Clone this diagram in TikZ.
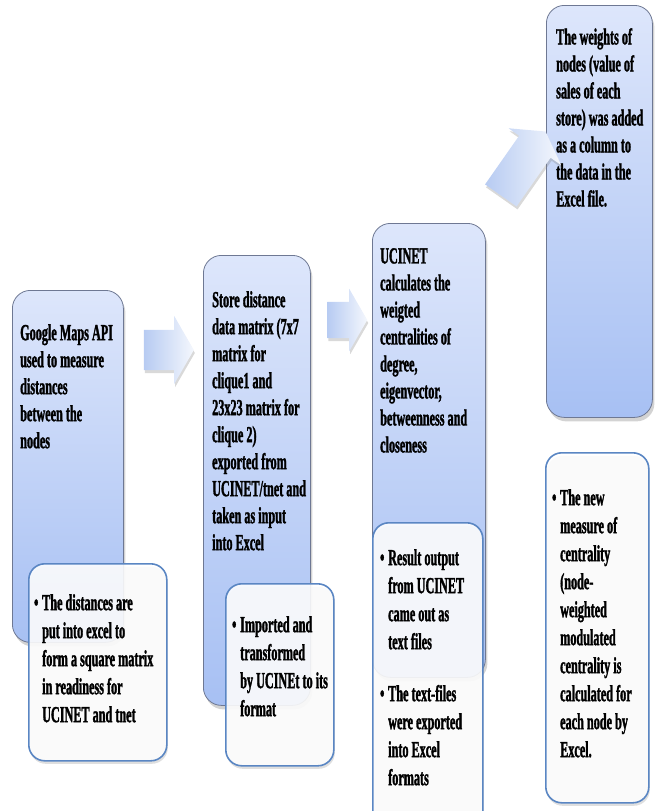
\documentclass[tikz,border=0pt]{standalone}
\usepackage{fontspec}
\newfontfamily\stepfont{Liberation Serif Bold}[FakeStretch=0.53, FakeBold=1.3]
\usetikzlibrary{shapes.arrows,shadows,positioning}

\definecolor{boxtop}{HTML}{DDE6FB}
\definecolor{boxbot}{HTML}{A7C0F3}
\definecolor{boxline}{HTML}{6E7893}
\definecolor{noteline}{HTML}{5A86C3}
\definecolor{arrowblue}{HTML}{B7CBF2}

\tikzset{
  bluebox/.style={draw=boxline, line width=0.8pt, rounded corners=18pt, top color=boxtop, bottom color=boxbot,
    drop shadow={shadow xshift=2pt, shadow yshift=-4pt, opacity=0.35}, anchor=north west, inner sep=0pt},
  notebox/.style={draw=noteline, line width=1.6pt, rounded corners=16pt, fill=white, fill opacity=0.88,
    drop shadow={shadow xshift=1pt, shadow yshift=-3pt, opacity=0.25}, anchor=north west, inner sep=0pt},
  boxtext/.style={font=\stepfont\fontsize{23}{27}\selectfont, align=left, inner sep=0pt, anchor=north west},
  notetext/.style={font=\stepfont\fontsize{23}{28}\selectfont, align=left, inner sep=0pt, anchor=north west},
  flowarrow/.style={single arrow, single arrow tip angle=120, inner xsep=0pt,
    left color=arrowblue, right color=arrowblue!15,
    drop shadow={shadow xshift=1pt, shadow yshift=-3pt, opacity=0.3}}
}

\begin{document}
\begin{tikzpicture}[x=1pt, y=-1pt]
    \useasboundingbox (0,0) rectangle (656,811);
    \clip (0,0) rectangle (656,811);

    % Step 1
    \node[bluebox, minimum width=111, minimum height=352] (gmaps) at (12,290) {};
    \node[boxtext] (gmapstxt) at ([shift={(8,34)}]gmaps.north west)
        {Google Maps API\\used to measure\\distances\\between the\\nodes};
    \node[notebox, minimum width=138, minimum height=197] (gmapsnote) at (28,563) {};
    \node[notetext] (gmapsnotetxt) at ([shift={(14,31)}]gmapsnote.north west)
        {\llap{\textbullet\,}The distances are\\put into excel to\\form a square matrix\\in readiness for\\UCINET and tnet};

    % Step 2
    \node[bluebox, minimum width=107, minimum height=450] (store) at (203,255) {};
    \node[boxtext] (storetxt) at ([shift={(9,36)}]store.north west)
        {Store distance\\data matrix (7x7\\matrix for\\clique1 and\\23x23 matrix for\\clique 2)\\exported from\\UCINET/tnet and\\taken as input\\into Excel};
    \node[notebox, minimum width=108, minimum height=182] (storenote) at (225,583) {};
    \node[notetext] (storenotetxt) at ([shift={(15,33)}]storenote.north west)
        {\llap{\textbullet\,}Imported and\\transformed\\by UCINEt to its\\format};

    % Step 3
    \node[bluebox, minimum width=113, minimum height=454] (ucinet) at (372,223) {};
    \node[boxtext] (ucinettxt) at ([shift={(8,25)}]ucinet.north west)
        {UCINET\\calculates the\\weigted\\centralities of\\degree,\\eigenvector,\\betweenness and\\closeness};
    \node[notebox, minimum width=110, minimum height=320] (ucinetnote) at (372,522) {};
    \node[notetext] (ucinetnotetxt) at ([shift={(16,27)}]ucinetnote.north west)
        {\llap{\textbullet\,}Result output\\from UCINET\\came out as\\text files\\[24pt]\llap{\textbullet\,}The text-files\\were exported\\into Excel\\formats};

    % Step 4
    \node[bluebox, minimum width=106, minimum height=412] (weights) at (546,5) {};
    \node[boxtext] (weightstxt) at ([shift={(10,23)}]weights.north west)
        {The weights of\\nodes (value of\\sales of each\\store) was added\\as a column to\\the data in the\\Excel file.};
    \node[notebox, minimum width=103, minimum height=350] (weightsnote) at (545,452) {};
    \node[notetext] (weightsnotetxt) at ([shift={(15,37)}]weightsnote.north west)
        {\llap{\textbullet\,}The new\\measure of\\centrality\\(node-\\weighted\\modulated\\centrality is\\calculated for\\each node by\\Excel.};

    % Arrows between steps
    \node[flowarrow, minimum height=50, inner ysep=20pt, single arrow head extend=14pt] (arr1) at (163,350) {};
    \node[flowarrow, minimum height=40, inner ysep=18pt, single arrow head extend=13pt] (arr2) at (342,320) {};
    \node[flowarrow, minimum height=78, inner ysep=19pt, single arrow head extend=13pt, rotate=55] (arr3) at (520,168) {};
\end{tikzpicture}
\end{document}
